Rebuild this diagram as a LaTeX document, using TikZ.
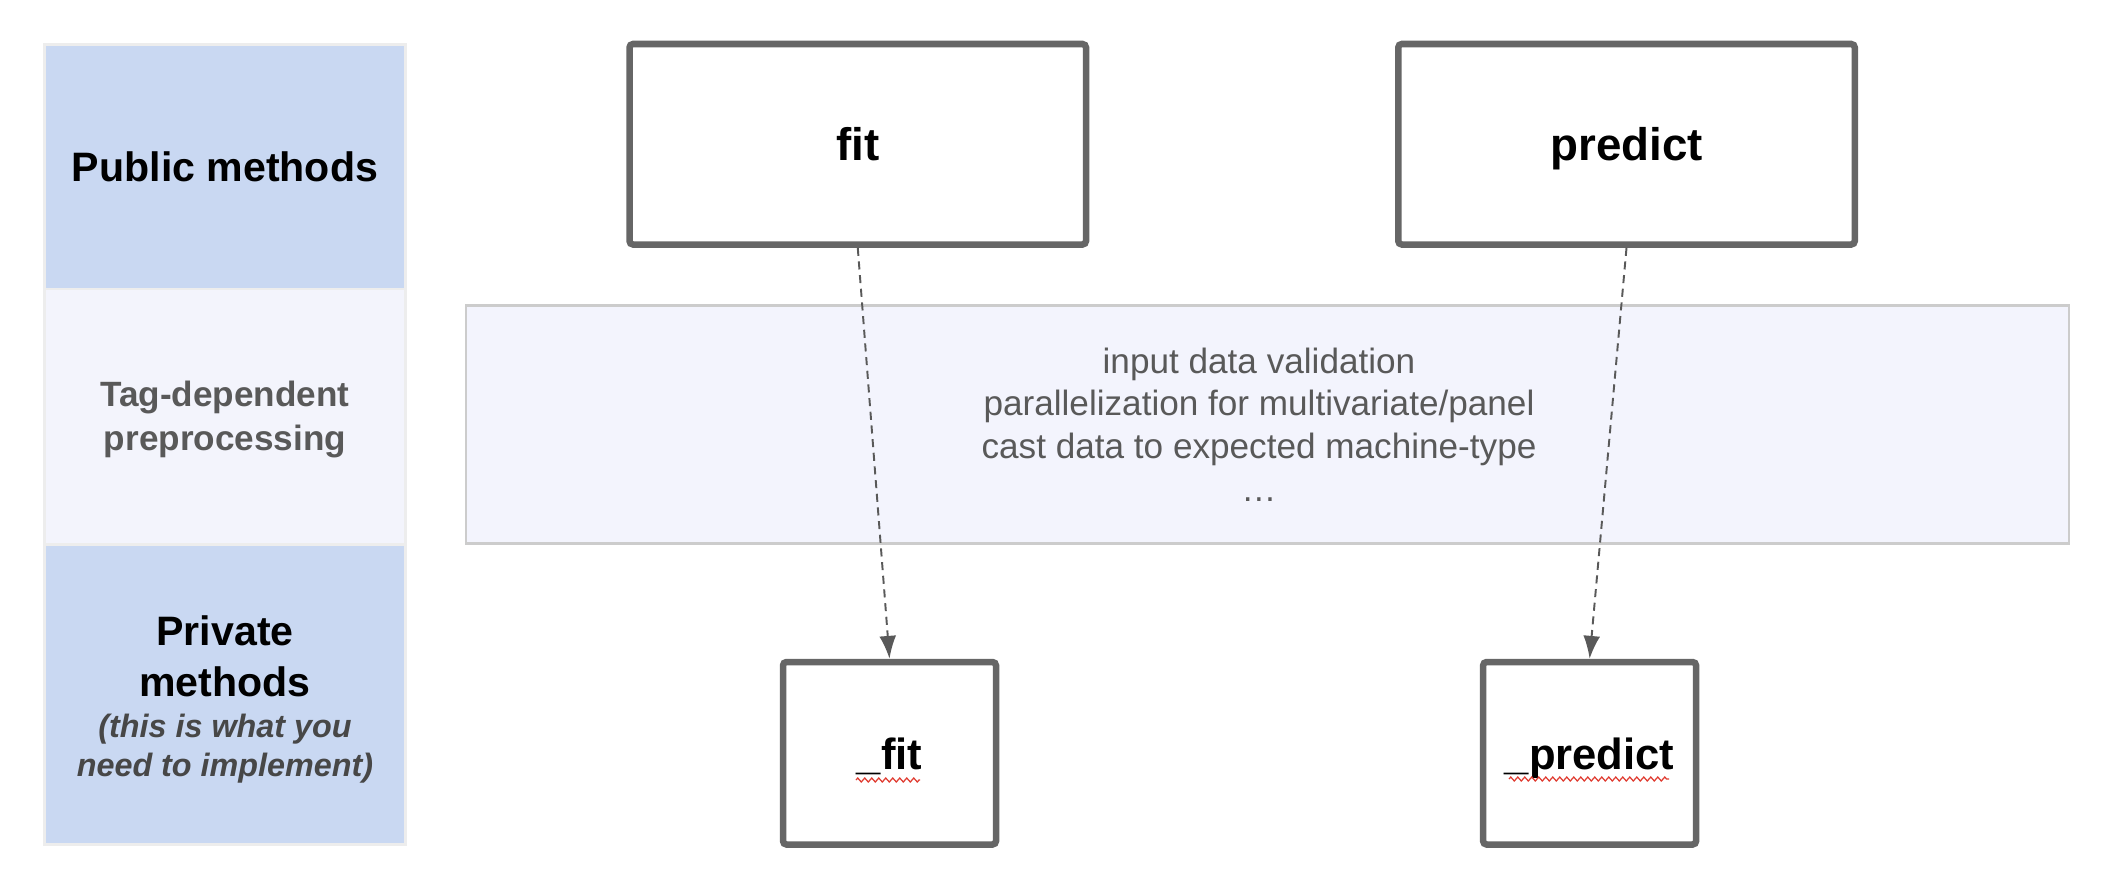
\documentclass[tikz,border=0pt]{standalone}
\usepackage{fontspec}
\setmainfont{Liberation Sans}
\usetikzlibrary{positioning, calc, arrows.meta, decorations.pathmorphing}
\definecolor{laneblue}{HTML}{C9D8F2}
\definecolor{lanepale}{HTML}{F3F4FC}
\definecolor{laneedge}{HTML}{EDEDED}
\definecolor{bandfill}{HTML}{F3F4FD}
\definecolor{bandedge}{HTML}{CCCCCC}
\definecolor{boxgrey}{HTML}{666666}
\definecolor{textgrey}{HTML}{595959}
\definecolor{implgrey}{HTML}{474747}
\definecolor{spellred}{HTML}{E03C31}

\begin{document}
\begin{tikzpicture}[
	lane/.style={draw=laneedge, line width=0.6pt, minimum width=3.61cm, inner sep=0pt, outer sep=0pt, align=center},
	method/.style={draw=boxgrey, fill=white, line width=1.85pt, rounded corners=1pt, font=\bfseries\fontsize{13}{15}\selectfont, text depth=0pt},
	private/.style={method, font=\bfseries\fontsize{12.4}{15}\selectfont},
	call/.style={dash pattern=on 2.3pt off 1.6pt, draw=textgrey, line width=0.55pt, -{Latex[length=6.5pt,width=4.8pt]}},
	squiggle/.style={draw=spellred, line width=0.35pt, decorate, decoration={zigzag, segment length=0.07cm, amplitude=0.02cm}}
	]
	\useasboundingbox (0,0) rectangle (21.02,-8.86);
	\pgfmathsetmacro{\bigw}{4.565}
	\pgfmathsetmacro{\bigh}{2.005}
	\pgfmathsetmacro{\smallw}{2.13}
	\pgfmathsetmacro{\smallh}{1.825}
	
	% left column
	\node[lane, fill=laneblue, minimum height=2.445cm, font=\bfseries\fontsize{11.7}{14}\selectfont] (pub) at (2.25,-1.6675) {Public methods};
	\node[lane, fill=lanepale, minimum height=2.555cm, text=textgrey, font=\bfseries\fontsize{10}{12.5}\selectfont, below=0pt of pub] (tag) {\rule{0pt}{8.6pt}Tag-dependent\\preprocessing};
	\node[lane, fill=laneblue, minimum height=3cm, font=\fontsize{9.2}{11.1}\selectfont, below=0pt of tag] (priv) {{\bfseries\fontsize{11.7}{14}\selectfont\rule{0pt}{11.4pt}Private}\\[3.4pt]{\bfseries\fontsize{11.7}{14}\selectfont methods}\\[0.6pt]{\bfseries\itshape\color{implgrey}(this is what you}\\{\bfseries\itshape\color{implgrey}need to implement)}};
	
	% preprocessing band
	\node[draw=bandedge, fill=bandfill, line width=0.6pt, minimum width=16.03cm, minimum height=2.38cm] (band) at (12.675,-4.245) {};
	\node[text=textgrey, font=\fontsize{10}{12.1}\selectfont, align=center, xshift=-0.085cm] (steps) at (band.center) {input data validation\\parallelization for multivariate/panel\\cast data to expected machine-type\\…};
	
	% public and private methods
	\node[method, minimum width=\bigw cm, minimum height=\bigh cm] (fit) at (8.5775,-1.4425) {fit};
	\node[method, minimum width=\bigw cm, minimum height=\bigh cm] (predict) at (16.265,-1.4425) {predict};
	\node[private, minimum width=\smallw cm, minimum height=\smallh cm] (pfit) at (8.895,-7.5325) {\_fit};
	\node[private, minimum width=\smallw cm, minimum height=\smallh cm] (ppredict) at (15.896,-7.5325) {\_predict};
	
	\draw[call] (fit.south) -- (pfit.north);
	\draw[call] (predict.south) -- (ppredict.north);
	
	\draw[squiggle] ($(pfit.center)+(-0.335,-0.2675)$) -- ++(0.64,0);
	\draw[squiggle] ($(ppredict.center)+(-0.806,-0.2575)$) -- ++(1.6,0);
\end{tikzpicture}
\end{document}
